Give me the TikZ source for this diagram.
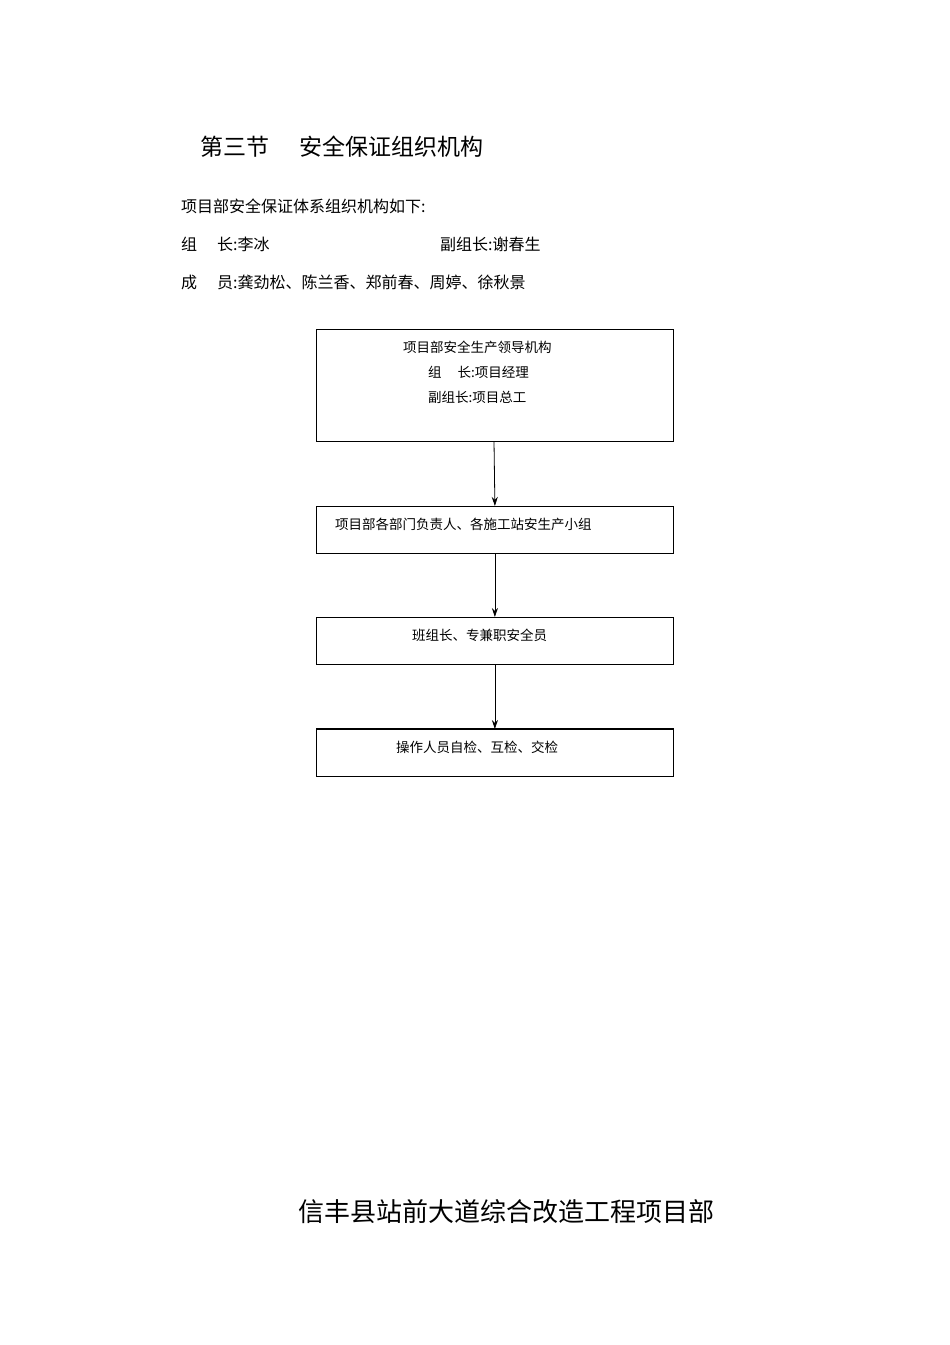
\documentclass[tikz,border=0pt]{standalone}
\usepackage{fontspec}
\setmainfont{Noto Sans CJK SC}
\usetikzlibrary{arrows.meta}
\begin{document}
\begin{tikzpicture}[x=1pt,y=-1pt,
  box/.style={draw,line width=0.8pt},
  txt/.style={anchor=west,inner sep=0pt,font=\fontsize{16}{18}\selectfont},
  btxt/.style={anchor=west,inner sep=0pt,font=\fontsize{13.5}{15}\selectfont},
  arr/.style={-{Stealth[length=9pt,width=6pt]},line width=0.8pt}]
\useasboundingbox (0,0) rectangle (950,1345);
\node[txt,font=\fontsize{23}{26}\selectfont] (t) at (200,147) {第三节\hspace{30pt}安全保证组织机构};
\node[txt] (l1) at (181,206) {项目部安全保证体系组织机构如下:};
\node[txt] (l2) at (181,244) {组\hspace{20pt}长:李冰};
\node[txt] (l2b) at (440,244) {副组长:谢春生};
\node[txt] (l3) at (181,282) {成\hspace{20pt}员:龚劲松、陈兰香、郑前春、周婷、徐秋景};
\draw[box] (316,329) rectangle (673,441);
\coordinate (b1) at (494,441);
\node[btxt] (b1a) at (403,347) {项目部安全生产领导机构};
\node[btxt] (b1b) at (428,372) {组\hspace{16pt}长:项目经理};
\node[btxt] (b1c) at (428,397) {副组长:项目总工};
\node[box,minimum width=357pt,minimum height=47pt,anchor=north west] (b2) at (316,506) {};
\node[btxt] at (335,524) {项目部各部门负责人、各施工站安生产小组};
\node[box,minimum width=357pt,minimum height=47pt,anchor=north west] (b3) at (316,617) {};
\node[btxt] at (412,635) {班组长、专兼职安全员};
\node[box,minimum width=357pt,minimum height=47pt,anchor=north west] (b4) at (316,729) {};
\draw[line width=1.6pt] (b4.north west) -- (b4.north east);
\node[btxt] at (396,747) {操作人员自检、互检、交检};
\draw[arr] (b1) -- (b2.north);
\draw[arr] (b2.south) -- (b3.north);
\draw[arr] (b3.south) -- (b4.north);
\node[txt,font=\fontsize{26}{30}\selectfont] (f) at (298,1212) {信丰县站前大道综合改造工程项目部};
\end{tikzpicture}
\end{document}
